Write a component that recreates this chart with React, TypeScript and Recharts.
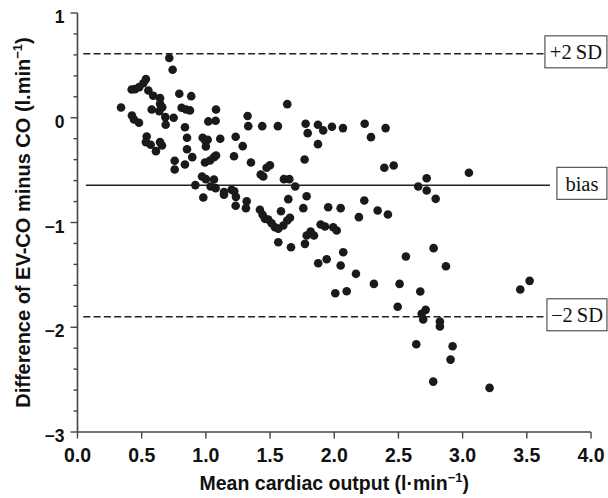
import React from 'react';
import { ScatterChart, Scatter, XAxis, YAxis, ReferenceLine } from 'recharts';

// Mean cardiac output (x) and difference EV-CO minus CO (y)
const lowMean = [0.715, 0.741, 0.533, 0.513, 0.481, 0.448, 0.422, 0.552, 0.59, 0.793, 0.886, 0.643, 0.643, 0.66, 0.637, 0.578, 0.339, 0.811, 0.845, 0.876, 1.079, 0.684, 0.749, 0.424, 0.44, 0.479, 0.687, 0.837, 1.019, 1.076, 0.539, 0.533, 0.57, 0.611, 0.643, 0.658, 0.853, 0.975, 0.995, 1.014, 1.0, 1.112, 0.853, 0.894, 0.757, 0.757, 0.837, 0.993, 1.032, 1.063, 1.079, 0.97, 1.0, 1.063, 0.918, 1.037, 1.076, 1.141, 1.141, 0.98];
const lowDiff = [0.57, 0.458, 0.369, 0.33, 0.292, 0.273, 0.27, 0.26, 0.21, 0.229, 0.206, 0.187, 0.134, 0.1, 0.063, 0.079, 0.098, 0.095, 0.079, 0.07, 0.079, 0.006, 0.0, 0.022, -0.016, -0.048, -0.067, -0.09, -0.035, -0.029, -0.179, -0.233, -0.258, -0.319, -0.233, -0.265, -0.191, -0.191, -0.217, -0.21, -0.274, -0.2, -0.3, -0.376, -0.411, -0.494, -0.446, -0.427, -0.408, -0.376, -0.36, -0.561, -0.586, -0.589, -0.643, -0.656, -0.672, -0.71, -0.735, -0.761];

const midMean = [1.325, 1.33, 1.439, 1.561, 1.634, 1.777, 1.793, 1.873, 1.914, 1.982, 2.068, 1.873, 1.769, 1.232, 1.287, 1.219, 1.351, 1.427, 1.447, 1.473, 1.499, 1.608, 1.65, 1.696, 1.2, 1.221, 1.234, 1.232, 1.318, 1.312, 1.421, 1.442, 1.46, 1.486, 1.512, 1.538, 1.564, 1.603, 1.634, 1.655, 1.585, 1.642, 1.785, 1.759, 1.953, 2.05, 1.564, 1.663, 1.772, 1.785, 1.816, 1.842, 1.894, 1.928, 1.992, 2.019, 2.07, 1.875, 1.941, 2.05, 2.008, 2.097];
const midDiff = [0.016, -0.08, -0.08, -0.08, 0.13, -0.057, -0.147, -0.067, -0.121, -0.086, -0.099, -0.252, -0.398, -0.182, -0.271, -0.367, -0.427, -0.542, -0.561, -0.478, -0.453, -0.586, -0.586, -0.656, -0.688, -0.701, -0.755, -0.84, -0.797, -0.863, -0.879, -0.926, -0.965, -0.971, -1.007, -1.045, -1.06, -1.029, -0.981, -0.955, -0.892, -0.777, -0.749, -0.863, -0.854, -0.863, -1.188, -1.236, -1.204, -1.124, -1.086, -1.124, -1.019, -1.038, -1.045, -1.076, -1.284, -1.389, -1.351, -1.411, -1.675, -1.656];

const highMean = [2.237, 2.286, 2.4, 2.39, 2.463, 3.049, 2.72, 2.654, 2.72, 2.79, 2.234, 2.192, 2.338, 2.418, 2.169, 2.309, 2.509, 2.558, 2.774, 2.87, 2.67, 3.449, 3.522, 2.494, 2.681, 2.712, 2.693, 2.823, 2.823, 2.639, 2.922, 2.906, 2.771, 3.21];
const highDiff = [-0.057, -0.185, -0.099, -0.478, -0.456, -0.525, -0.577, -0.656, -0.694, -0.774, -0.79, -0.949, -0.885, -0.924, -1.49, -1.586, -1.586, -1.325, -1.245, -1.417, -1.659, -1.64, -1.557, -1.805, -1.872, -1.834, -1.926, -1.946, -1.993, -2.162, -2.181, -2.309, -2.519, -2.579];

// Agreement limits
const bias = -0.645;
const upperLimit = 0.61;
const lowerLimit = -1.9;
const lineStart = 0.045;
const biasStart = 0.065;
const upperEnd = 3.641;
const lowerEnd = 3.657;
const biasEnd = 3.68;

const xTicks = [0, 0.5, 1, 1.5, 2, 2.5, 3, 3.5, 4];
const yTicks = [-3, -2.8, -2.6, -2.4, -2.2, -2, -1.8, -1.6, -1.4, -1.2, -1, -0.8, -0.6, -0.4, -0.2, 0, 0.2, 0.4, 0.6, 0.8, 1];

const zip = (xs: number[], ys: number[]) => xs.map((x, i) => ({ x, y: ys[i] }));
const points = [...zip(lowMean, lowDiff), ...zip(midMean, midDiff), ...zip(highMean, highDiff)];

const SANS = '"Liberation Sans", Arial, Helvetica, sans-serif';
const SERIF = '"Liberation Serif", "Times New Roman", serif';
const AXIS = '#444';

const fmtY = (v: number) => (v < 0 ? '\u2212' + Math.abs(v) : String(v));
const fmtX = (v: number) => v.toFixed(1);

const YTick = (props: any) => {
  const { x, y, payload } = props;
  const v = payload.value as number;
  const major = Math.abs(v - Math.round(v)) < 1e-6;
  return (
    <g>
      <line x1={x - (major ? 7 : 4)} x2={x} y1={y} y2={y} stroke={AXIS} strokeWidth={1.4} />
      {major && (
        <text x={x - 13} y={y + 10} textAnchor="end" fontFamily={SANS} fontWeight="bold" fontSize={17.5} fill="#111">
          {fmtY(Math.round(v))}
        </text>
      )}
    </g>
  );
};

const XTick = (props: any) => {
  const { x, y, payload } = props;
  return (
    <g>
      <line x1={x} x2={x} y1={y} y2={y + 6.5} stroke={AXIS} strokeWidth={1.4} />
      <text x={x} y={y + 29.5} textAnchor="middle" fontFamily={SANS} fontWeight="bold" fontSize={19.5} fill="#111">
        {fmtX(payload.value)}
      </text>
    </g>
  );
};

const boxLabel = (text: string, gap: number, w: number) => (props: any) => {
  const vb = props.viewBox || {};
  const x0 = vb.x + vb.width + gap;
  const yc = vb.y;
  return (
    <g>
      <rect x={x0} y={yc - 18} width={w} height={32} fill="#fff" stroke="#444" strokeWidth={1.1} />
      <text x={x0 + w / 2} y={yc + 5.5} textAnchor="middle" fontFamily={SERIF} fontSize={20.5} fill="#111">
        {text}
      </text>
    </g>
  );
};

const yLabel = (props: any) => {
  const vb = props.viewBox;
  const cx = vb.x + 30;
  const cy = vb.y + vb.height / 2;
  return (
    <text
      x={cx}
      y={cy}
      transform={`rotate(-90 ${cx} ${cy})`}
      textAnchor="middle"
      fontFamily={SANS}
      fontWeight="bold"
      fontSize={20}
      fill="#111"
    >
      Difference of EV-CO minus CO (l.min
      <tspan fontSize={13} dy={-8}>{'\u22121'}</tspan>
      <tspan dy={8}>)</tspan>
    </text>
  );
};

const xLabel = (props: any) => {
  const vb = props.viewBox;
  const cx = vb.x + vb.width / 2;
  const cy = vb.y + 58;
  return (
    <text x={cx} y={cy} textAnchor="middle" fontFamily={SANS} fontWeight="bold" fontSize={19.5} fill="#111">
      Mean cardiac output (l·min
      <tspan fontSize={13} dy={-8}>{'\u22121'}</tspan>
      <tspan dy={8}>)</tspan>
    </text>
  );
};

const Dot = (p: any) => <circle cx={p.cx} cy={p.cy} r={4.3} fill="#1a1a1a" />;

export default function App() {
  return (
    <div style={{ position: 'absolute', left: 0, top: 0, width: 608, height: 498, background: '#fff' }}>
      <ScatterChart width={608} height={498} margin={{ top: 13, right: 17, bottom: 0, left: 0 }}>
        <XAxis
          type="number"
          dataKey="x"
          domain={[0, 4]}
          ticks={xTicks}
          interval={0}
          height={66}
          tickSize={0}
          tickMargin={0}
          tickLine={false}
          axisLine={{ stroke: AXIS, strokeWidth: 1.6 }}
          tick={<XTick />}
          label={xLabel}
          allowDataOverflow
        />
        <YAxis
          type="number"
          dataKey="y"
          domain={[-3, 1]}
          ticks={yTicks}
          interval={0}
          width={77.5}
          tickSize={0}
          tickMargin={0}
          tickLine={false}
          axisLine={{ stroke: AXIS, strokeWidth: 1.6 }}
          tick={<YTick />}
          label={yLabel}
          allowDataOverflow
        />
        <ReferenceLine
          segment={[{ x: lineStart, y: upperLimit }, { x: upperEnd, y: upperLimit }]}
          stroke="#222"
          strokeWidth={1.5}
          strokeDasharray="7 3.3"
          label={boxLabel('+2\u2009SD', 0, 62)}
        />
        <ReferenceLine
          segment={[{ x: biasStart, y: bias }, { x: biasEnd, y: bias }]}
          stroke="#222"
          strokeWidth={1.6}
          label={boxLabel('bias', 7, 50)}
        />
        <ReferenceLine
          segment={[{ x: lineStart, y: lowerLimit }, { x: lowerEnd, y: lowerLimit }]}
          stroke="#222"
          strokeWidth={1.5}
          strokeDasharray="7 3.3"
          label={boxLabel('\u22122\u2009SD', 0, 60)}
        />
        <Scatter data={points} shape={<Dot />} isAnimationActive={false} />
      </ScatterChart>
    </div>
  );
}
